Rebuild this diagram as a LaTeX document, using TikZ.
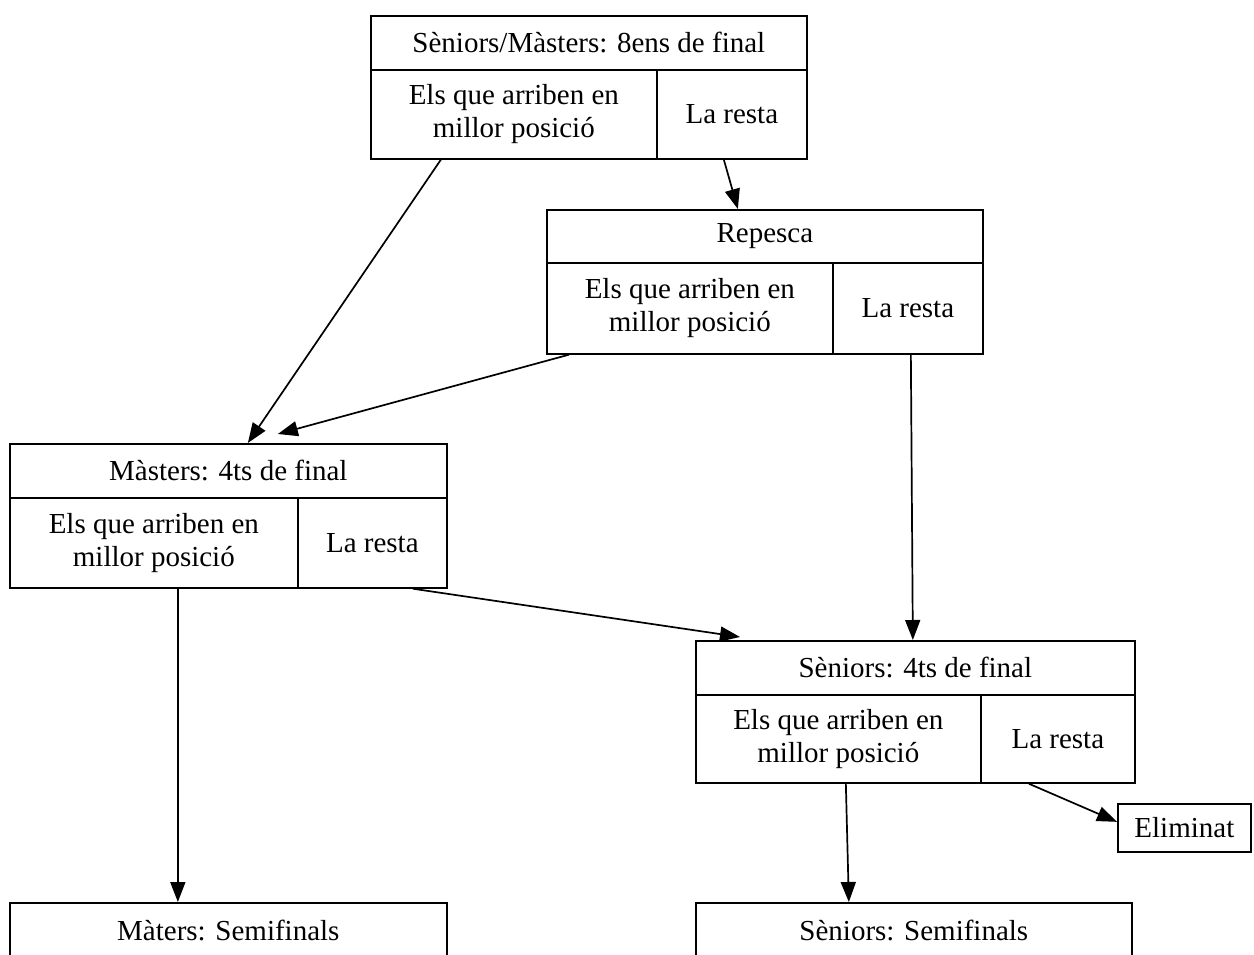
\documentclass[tikz,border=0pt]{standalone}
\usepackage{fontspec}
\setmainfont{Liberation Serif}
\usetikzlibrary{arrows.meta,calc}
\begin{document}
\begin{tikzpicture}[x=1pt,y=-1pt,
  cell/.style={draw, line width=1.7pt, inner sep=0pt, anchor=north west, align=center,
    font=\fontsize{29}{33}\selectfont},
  conn/.style={line width=1.7pt, -{Triangle[length=20pt,width=15pt]}}]
\useasboundingbox (0,0) rectangle (1254,954);
% top box
\node[cell, minimum width=436pt, minimum height=54pt] (topH) at (370,15) {Sèniors/Màsters: 8ens de final};
\node[cell, minimum width=286pt, minimum height=89pt] (topL) at (370,69) {Els que arriben en\\millor posició};
\node[cell, minimum width=150pt, minimum height=89pt] (topR) at (656,69) {La resta};
% repesca
\node[cell, minimum width=436pt, minimum height=53pt] (repH) at (546,209) {Repesca};
\node[cell, minimum width=286pt, minimum height=91pt] (repL) at (546,262) {Els que arriben en\\millor posició};
\node[cell, minimum width=150pt, minimum height=91pt] (repR) at (832,262) {La resta};
% masters
\node[cell, minimum width=437pt, minimum height=54pt] (masH) at (9,443) {Màsters: 4ts de final};
\node[cell, minimum width=288pt, minimum height=90pt] (masL) at (9,497) {Els que arriben en\\millor posició};
\node[cell, minimum width=149pt, minimum height=90pt] (masR) at (297,497) {La resta};
% seniors
\node[cell, minimum width=439pt, minimum height=54pt] (senH) at (695,640) {Sèniors: 4ts de final};
\node[cell, minimum width=285pt, minimum height=88pt] (senL) at (695,694) {Els que arriben en\\millor posició};
\node[cell, minimum width=154pt, minimum height=88pt] (senR) at (980,694) {La resta};
% eliminat
\node[cell, minimum width=133pt, minimum height=48pt] (elim) at (1117,803) {Eliminat};
% semifinals
\node[cell, minimum width=437pt, minimum height=56pt] (masS) at (9,902) {Màters: Semifinals};
\node[cell, minimum width=436pt, minimum height=56pt] (senS) at (695,902) {Sèniors: Semifinals};
% helper coordinate
\coordinate (masIn) at ([xshift=49.5pt,yshift=9pt]masH.north);
% connectors
\draw[conn] ([xshift=-73pt]topL.south) -- ([xshift=19.5pt]masH.north);
\draw[conn] ([xshift=-8pt]topR.south) -- ([xshift=-27pt]repH.north);
\draw[conn] ([xshift=-121pt]repL.south) -- (masIn);
\draw[conn] ([xshift=3pt]repR.south) -- ([xshift=-2.5pt]senH.north);
\draw[conn] ([xshift=40.5pt]masR.south) -- ([xshift=45pt,yshift=3pt]senH.north west);
\draw[conn] ([xshift=24pt]masL.south) -- ([xshift=-50.5pt]masS.north);
\draw[conn] ([xshift=7.5pt]senL.south) -- ([xshift=-65pt]senS.north);
\draw[conn] ([xshift=-29pt]senR.south) -- ([yshift=6pt]elim.west);
\end{tikzpicture}
\end{document}
